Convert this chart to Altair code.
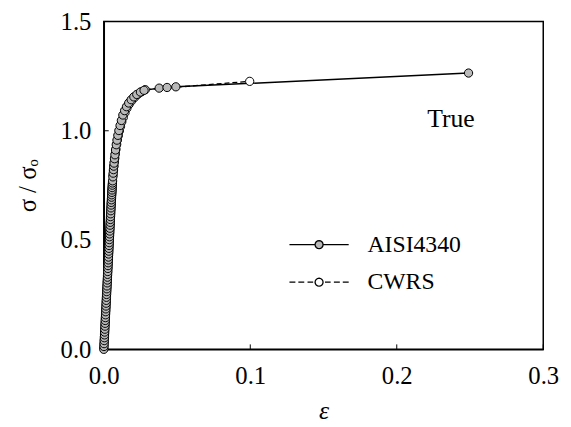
import altair as alt
import pandas as pd

# ---- data ----
aisi_eps = [0, 0.0001, 0.0002, 0.0003, 0.0004, 0.0005, 0.0006, 0.0007, 0.0008, 0.0009,
            0.0010, 0.0011, 0.0012, 0.0013, 0.0014, 0.0015, 0.0016, 0.0017, 0.0018, 0.0019,
            0.0020, 0.0021, 0.0022, 0.0023, 0.0024, 0.0025, 0.0026, 0.0027, 0.0028, 0.0029,
            0.0030, 0.0031, 0.0032, 0.0033, 0.0034, 0.0035, 0.0036, 0.0037, 0.0038, 0.0039,
            0.0040, 0.0041, 0.0042, 0.0043, 0.0044, 0.0045, 0.0046, 0.0047, 0.0048, 0.0049,
            0.0050, 0.0051, 0.0052, 0.0053, 0.0054, 0.0055, 0.0056, 0.0057, 0.0058, 0.0059,
            0.0060, 0.0062, 0.0064, 0.0066, 0.0068, 0.0070, 0.0073, 0.0076, 0.0080, 0.0085,
            0.0090, 0.0096, 0.0103, 0.0111, 0.0120, 0.0130, 0.0142, 0.0155, 0.0170, 0.0187,
            0.0205, 0.0225, 0.0250, 0.0275, 0.0378, 0.0432, 0.0492, 0.2490]
aisi_sig = [0.000, 0.013, 0.026, 0.040, 0.053, 0.066, 0.079, 0.092, 0.106, 0.119,
            0.132, 0.145, 0.158, 0.172, 0.185, 0.198, 0.211, 0.224, 0.238, 0.251,
            0.264, 0.277, 0.290, 0.304, 0.317, 0.330, 0.343, 0.356, 0.370, 0.383,
            0.396, 0.409, 0.422, 0.436, 0.449, 0.462, 0.475, 0.488, 0.502, 0.515,
            0.528, 0.541, 0.554, 0.568, 0.581, 0.594, 0.607, 0.620, 0.634, 0.647,
            0.660, 0.672, 0.684, 0.696, 0.707, 0.718, 0.729, 0.740, 0.751, 0.761,
            0.771, 0.789, 0.806, 0.822, 0.838, 0.852, 0.872, 0.890, 0.912, 0.936,
            0.957, 0.979, 1.001, 1.024, 1.047, 1.072, 1.092, 1.110, 1.127, 1.142,
            1.155, 1.166, 1.177, 1.185, 1.195, 1.198, 1.201, 1.264]

cwrs_eps = [0.00005, 0.00015, 0.00025, 0.00035, 0.00045, 0.00055, 0.00065, 0.00075, 0.00085, 0.00095,
            0.00105, 0.00115, 0.00125, 0.00135, 0.00145, 0.00155, 0.00165, 0.00175, 0.00185, 0.00195,
            0.00205, 0.00215, 0.00225, 0.00235, 0.00245, 0.00255, 0.00265, 0.00275, 0.00285, 0.00295,
            0.00305, 0.00315, 0.00325, 0.00335, 0.00345, 0.00355, 0.00365, 0.00375, 0.00385, 0.00395,
            0.00405, 0.00415, 0.00425, 0.00435, 0.00445, 0.00455, 0.00465, 0.00475, 0.00485, 0.00495,
            0.00505, 0.00515, 0.00525, 0.00535, 0.00545, 0.00555, 0.00565, 0.00575, 0.00585, 0.00595,
            0.0063, 0.0066, 0.0069, 0.0072, 0.0075, 0.0079, 0.0083, 0.0088, 0.0093, 0.0099,
            0.0106, 0.0114, 0.0123, 0.0133, 0.0145, 0.0158, 0.0173, 0.0190, 0.0210, 0.0232,
            0.0257, 0.0283, 0.0996]
cwrs_sig = [0.007, 0.020, 0.033, 0.046, 0.059, 0.073, 0.086, 0.099, 0.112, 0.125,
            0.139, 0.152, 0.165, 0.178, 0.191, 0.205, 0.218, 0.231, 0.244, 0.257,
            0.271, 0.284, 0.297, 0.310, 0.323, 0.337, 0.350, 0.363, 0.376, 0.389,
            0.403, 0.416, 0.429, 0.442, 0.455, 0.469, 0.482, 0.495, 0.508, 0.521,
            0.535, 0.548, 0.561, 0.574, 0.587, 0.601, 0.614, 0.627, 0.640, 0.653,
            0.666, 0.678, 0.690, 0.702, 0.713, 0.724, 0.735, 0.746, 0.756, 0.766,
            0.797, 0.818, 0.838, 0.857, 0.875, 0.896, 0.916, 0.938, 0.958, 0.978,
            0.999, 1.020, 1.041, 1.061, 1.083, 1.103, 1.121, 1.137, 1.152, 1.166,
            1.178, 1.188, 1.226]

series_names = ["AISI4340", "CWRS"]
x_ticks = [0.0, 0.1, 0.2, 0.3]
y_ticks = [0.0, 0.5, 1.0, 1.5]
note_text = ["True"]
note_x = [0.237]
note_y = [1.055]

FONT = "Liberation Serif"
GRAY = "#b9b9b9"
W, H = 445, 332

aisi = pd.DataFrame({"eps": aisi_eps, "sig": aisi_sig, "series": "AISI4340"})
cwrs = pd.DataFrame({"eps": cwrs_eps, "sig": cwrs_sig, "series": "CWRS"})
legend_df = pd.DataFrame({"eps": [0.0, 0.0], "sig": [0.0, 0.0], "series": series_names})
note_df = pd.DataFrame({"eps": note_x, "sig": note_y, "label": note_text})
xt_df = pd.DataFrame({"eps": x_ticks})
yt_df = pd.DataFrame({"sig": y_ticks})

xscale = alt.Scale(domain=[0, 0.3], nice=False)
yscale = alt.Scale(domain=[0, 1.5], nice=False)

xaxis = alt.Axis(values=x_ticks, format=".1f", ticks=False, grid=False, labelPadding=15,
                 labelFlush=False, title="ε", titleFontStyle="italic", titlePadding=9,
                 titleFontSize=26)
yaxis = alt.Axis(values=y_ticks, format=".1f", ticks=False, grid=False, labelPadding=13,
                 labelFlush=False, title="σ / σₒ", titlePadding=20)

X = alt.X("eps:Q", scale=xscale, axis=xaxis)
Y = alt.Y("sig:Q", scale=yscale, axis=yaxis)

line_a = alt.Chart(aisi).mark_line(color="black", strokeWidth=1.5).encode(x=X, y=Y, order="eps:Q")
line_c = alt.Chart(cwrs).mark_line(color="black", strokeWidth=1.3, strokeDash=[5, 3]).encode(
    x=X, y=Y, order="eps:Q")
pts_a = alt.Chart(aisi).mark_point(filled=True, fill=GRAY, stroke="black", strokeWidth=1,
                                   size=70, opacity=1).encode(x=X, y=Y)
pts_c = alt.Chart(cwrs).mark_point(filled=True, fill="white", stroke="black", strokeWidth=1,
                                   size=70, opacity=1).encode(x=X, y=Y)

circ = ("M0.135,0L0.1247,0.0517L0.0955,0.0955L0.0517,0.1247L0,0.135L-0.0517,0.1247"
        "L-0.0955,0.0955L-0.1247,0.0517L-0.135,0L-0.1247,-0.0517L-0.0955,-0.0955"
        "L-0.0517,-0.1247L0,-0.135L0.0517,-0.1247L0.0955,-0.0955L0.1247,-0.0517Z")
path_a = "M-1,0L-0.135,0M0.135,0L1,0" + circ
path_c = ("M-1,0L-0.8,0M-0.7,0L-0.5,0M-0.39,0L-0.2,0"
          "M0.2,0L0.39,0M0.5,0L0.7,0M0.8,0L1,0") + circ

leg = alt.Legend(title=None, orient="none", legendX=187, legendY=211,
                 symbolSize=3600, symbolStrokeColor="black",
                 symbolStrokeWidth=1.3, symbolOpacity=1, clipHeight=30,
                 labelFont=FONT, labelFontSize=24, labelColor="black",
                 labelOffset=18, rowPadding=8)

legend_layer = alt.Chart(legend_df).mark_point(filled=False, strokeWidth=1.3,
                                               opacity=1).encode(
    x=X, y=Y,
    shape=alt.Shape("series:N", scale=alt.Scale(domain=series_names, range=[path_a, path_c]),
                    legend=leg),
    fill=alt.Fill("series:N", scale=alt.Scale(domain=series_names, range=[GRAY, "white"]),
                  legend=leg),
    stroke=alt.Stroke("series:N", scale=alt.Scale(domain=series_names, range=["black", "black"]),
                      legend=leg),
).transform_filter("false")

# inward ticks
xticks = alt.Chart(xt_df).mark_rule(color="black", strokeWidth=1).encode(
    x=alt.X("eps:Q", scale=xscale), y=alt.value(H), y2=alt.value(H - 5))
yticks = alt.Chart(yt_df).mark_rule(color="black", strokeWidth=1).encode(
    y=alt.Y("sig:Q", scale=yscale), x=alt.value(0), x2=alt.value(5))

note = alt.Chart(note_df).mark_text(font=FONT, fontSize=26, color="black").encode(
    x=alt.X("eps:Q", scale=xscale), y=alt.Y("sig:Q", scale=yscale), text="label:N")

chart = alt.layer(
    xticks, yticks, line_a, line_c, pts_c, pts_a, legend_layer, note
).properties(
    width=W, height=H,
    autosize=alt.AutoSizeParams(type="none"),
    padding={"left": 97, "top": 11, "right": 20, "bottom": 75},
).configure_view(stroke="black", strokeWidth=1.5).configure_axis(
    labelFont=FONT, labelFontSize=25, labelColor="black",
    titleFont=FONT, titleFontSize=25, titleColor="black", titleFontWeight="normal",
    domainColor="black", domainWidth=1.5,
)

chart.save("out.html", embed_options={"renderer": "svg", "actions": False})
